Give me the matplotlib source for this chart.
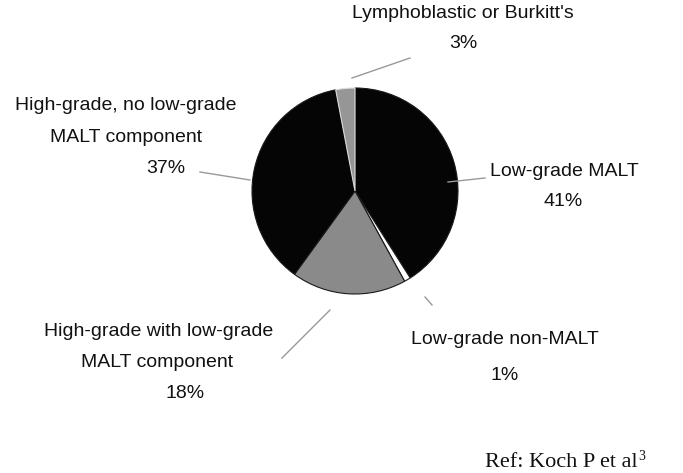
import matplotlib.pyplot as plt

labels = ['Low-grade MALT', 'Low-grade non-MALT', 'High-grade with low-grade\nMALT component',
          'High-grade, no low-grade\nMALT component', "Lymphoblastic or Burkitt's"]
shares = [41, 1, 18, 37, 3]
pcts = ['41%', '1%', '18%', '37%', '3%']
shades = ['#050505', '#ffffff', '#8a8a8a', '#050505', '#969696']

fig = plt.figure(figsize=(6.83, 4.73), dpi=100)
ax = fig.add_axes([0, 0, 1, 1])

# y axis runs downward here, so the sweep direction is flipped
wedges, _ = ax.pie(shares, colors=shades, startangle=-90, counterclock=True,
                   center=(355, 191), radius=103, frame=True,
                   wedgeprops=dict(linewidth=0.8, edgecolor='#1a1a1a'))
wedges[4].set_edgecolor('#dddddd')
ax.set_xlim(0, 683)
ax.set_ylim(473, 0)
ax.set_aspect('equal')
ax.axis('off')

font = dict(family='Liberation Sans', fontsize=14, color='#111111')

ax.text(463, 13, labels[4], ha='center', va='center', **font)
ax.text(463, 44, pcts[4], ha='center', va='center', **font)
ax.text(126, 105, 'High-grade, no low-grade', ha='center', va='center', **font)
ax.text(126, 137, 'MALT component', ha='center', va='center', **font)
ax.text(166, 168, pcts[3], ha='center', va='center', **font)
ax.text(564, 171, labels[0], ha='center', va='center', **font)
ax.text(563, 201, pcts[0], ha='center', va='center', **font)
ax.text(505, 339, labels[1], ha='center', va='center', **font)
ax.text(505, 375, pcts[1], ha='center', va='center', **font)
ax.text(159, 331, 'High-grade with low-grade', ha='center', va='center', **font)
ax.text(157, 362, 'MALT component', ha='center', va='center', **font)
ax.text(185, 393, pcts[2], ha='center', va='center', **font)

# leader lines
line = dict(color='#999999', linewidth=1)
ax.plot([352, 410], [78, 58], **line)
ax.plot([448, 485], [182, 178], **line)
ax.plot([425, 432], [297, 305], **line)
ax.plot([330, 282], [310, 358], **line)
ax.plot([200, 250], [172, 180], **line)

ax.text(485, 462, 'Ref: Koch P et al', ha='left', va='center',
        family='Liberation Serif', fontsize=16, color='#111111')
ax.text(638, 456, '3', ha='left', va='center',
        family='Liberation Serif', fontsize=10, color='#111111')

fig.savefig('out.png', dpi=100, facecolor='white')
